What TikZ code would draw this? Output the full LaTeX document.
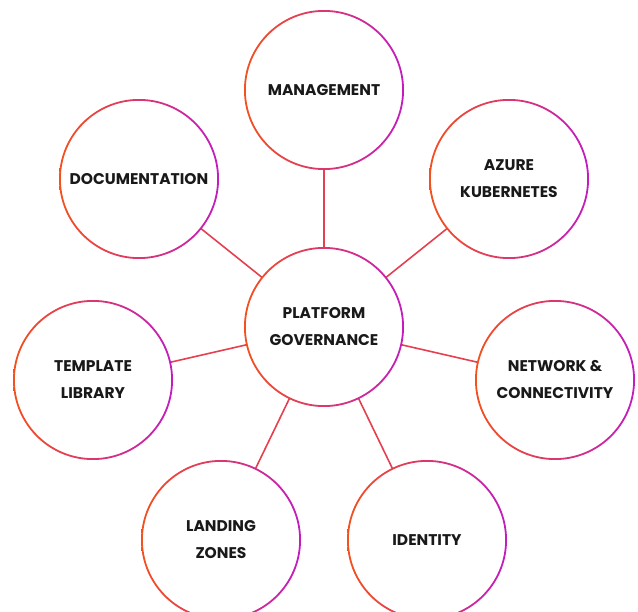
\documentclass[tikz,border=0pt]{standalone}
\usepackage{fontspec}
\setmainfont{Poppins}
\usepackage{tikz}

\definecolor{gorange}{HTML}{F4511E}
\definecolor{gmagenta}{HTML}{C21CC0}
\definecolor{glink}{HTML}{E5404F}

\tikzset{
  topic/.style={circle,minimum size=158pt,inner sep=0pt,align=center,
    font=\fontsize{15.5}{27}\selectfont\bfseries,text=black!90},
  ring/.style={left color=gorange,right color=gmagenta,even odd rule},
  conn/.style={draw=glink,line width=1.6pt}
}

\begin{document}
\begin{tikzpicture}[x=1pt,y=-1pt]
  \useasboundingbox (0,0) rectangle (638,612);
  \node[topic] (pg)  at (324,327) {PLATFORM\\GOVERNANCE};
  \node[topic] (mg)  at (324,90)  {MANAGEMENT};
  \node[topic] (doc) at (139,179) {DOCUMENTATION};
  \node[topic] (aks) at (509,179) {AZURE\\KUBERNETES};
  \node[topic] (tpl) at (93,380)  {TEMPLATE\\LIBRARY};
  \node[topic] (net) at (555,380) {NETWORK \&\\CONNECTIVITY};
  \node[topic] (lz)  at (221,540) {LANDING\\ZONES};
  \node[topic] (idn) at (427,540) {IDENTITY};

  \path[conn]
    (pg) edge (mg)
    (pg) edge (doc)
    (pg) edge (aks)
    (pg) edge (tpl)
    (pg) edge (net)
    (pg) edge (lz)
    (pg) edge (idn);

  % gradient outlines
  \foreach \n in {pg,mg,doc,aks,tpl,net,lz,idn}
    \shade[ring] (\n.center) circle (80pt) (\n.center) circle (78.2pt);
\end{tikzpicture}
\end{document}
